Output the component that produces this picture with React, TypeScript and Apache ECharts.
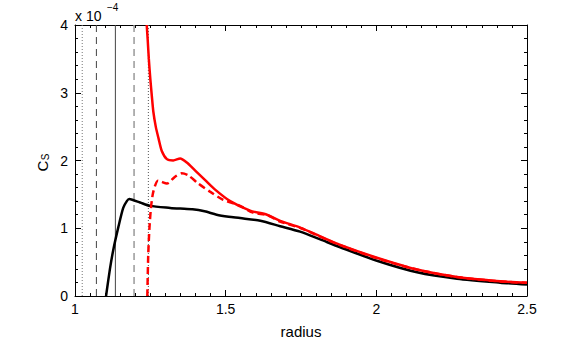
import React, { useEffect, useRef } from "react";
import * as echarts from "echarts";

// Data (C_S in units of 1e-4 vs radius)
const blackX = [1.103, 1.116, 1.127, 1.144, 1.16, 1.172, 1.18, 1.19, 1.216, 1.249, 1.316, 1.349, 1.39, 1.43, 1.47, 1.51, 1.548, 1.615, 1.681, 1.747, 1.814, 1.88, 2.002, 2.135, 2.268, 2.411, 2.5];
const blackY = [0, 0.4, 0.68, 1.02, 1.3, 1.40, 1.43, 1.42, 1.38, 1.33, 1.3, 1.29, 1.28, 1.25, 1.2, 1.17, 1.15, 1.11, 1.03, 0.95, 0.835, 0.72, 0.52, 0.35, 0.255, 0.197, 0.17];

const redX = [1.238, 1.241, 1.245, 1.25, 1.255, 1.26, 1.268, 1.277, 1.288, 1.305, 1.326, 1.349, 1.371, 1.399, 1.432, 1.465, 1.515, 1.581, 1.637, 1.681, 1.747, 1.814, 1.88, 2.002, 2.135, 2.268, 2.411, 2.5];
const redY = [4.0, 3.8, 3.5, 3.2, 2.95, 2.72, 2.5, 2.33, 2.14, 2.02, 2.0, 2.03, 1.97, 1.85, 1.71, 1.57, 1.4, 1.26, 1.2, 1.11, 1.01, 0.88, 0.755, 0.565, 0.39, 0.28, 0.217, 0.197];

const redDashX = [1.24, 1.243, 1.247, 1.252, 1.258, 1.265, 1.275, 1.285, 1.305, 1.332, 1.354, 1.376, 1.409, 1.448, 1.492, 1.548, 1.591, 1.64, 1.68, 1.75, 1.814, 1.88, 2.0, 2.135, 2.268, 2.411, 2.5];
const redDashY = [0, 0.6, 1.0, 1.3, 1.5, 1.62, 1.7, 1.69, 1.66, 1.76, 1.81, 1.78, 1.66, 1.54, 1.42, 1.33, 1.23, 1.19, 1.1, 1.0, 0.875, 0.75, 0.56, 0.39, 0.28, 0.215, 0.195];

// Vertical reference lines
const refLineX = [1.024, 1.071, 1.134, 1.196, 1.2435];
const refLineType = ["dotted", "dashed", "solid", "dashed", "dotted"];
const refLineColor = ["#777777", "#444444", "#444444", "#999999", "#555555"];
const refLineWidth = [1, 1, 1, 1.5, 1];

const xTicks = [1, 1.5, 2, 2.5];
const yTicks = [0, 1, 2, 3, 4];

const zip = (xs: number[], ys: number[]) => xs.map((x, i) => [x, ys[i]]);

const FONT = "Liberation Sans, Arial, Helvetica, sans-serif";

export default function App() {
  const ref = useRef<HTMLDivElement>(null);
  useEffect(() => {
    if (!ref.current) return;
    const chart = echarts.init(ref.current, null, { renderer: "svg" });
    const axisCommon = {
      type: "value" as const,
      axisLine: { show: true, onZero: false, lineStyle: { color: "#000", width: 1 } },
      axisTick: { show: true, inside: true, length: 6, lineStyle: { color: "#000" } },
      minorTick: { show: true, length: 3, lineStyle: { color: "#000" } },
      splitLine: { show: false },
      minorSplitLine: { show: false },
    };
    const refSeries = refLineX.map((x, i) => ({
      type: "line" as const,
      data: [[x, 0], [x, 4]],
      showSymbol: false,
      symbol: "none",
      lineStyle: {
        color: refLineColor[i],
        width: refLineWidth[i],
        type: refLineType[i] === "dashed" ? [7, 5] : refLineType[i] === "dotted" ? [1, 2] : "solid",
      },
      z: 1,
      silent: true,
    }));
    chart.setOption({
      animation: false,
      backgroundColor: "#fff",
      textStyle: { fontFamily: FONT },
      grid: { left: 75, right: 54, top: 25, bottom: 39.5 },
      xAxis: [
        {
          ...axisCommon,
          position: "bottom",
          min: 1,
          max: 2.5,
          interval: 0.5,
          minorTick: { ...axisCommon.minorTick, splitNumber: 10 },
          axisLabel: {
            show: true,
            color: "#000",
            fontSize: 14,
            fontFamily: FONT,
            margin: 6,
            showMinLabel: true,
            showMaxLabel: true,
            formatter: (v: number) => (xTicks.includes(v) ? String(v) : ""),
          },
          name: "radius",
          nameLocation: "middle",
          nameGap: 28,
          nameTextStyle: { color: "#000", fontSize: 15, fontFamily: FONT },
        },
        {
          ...axisCommon,
          position: "top",
          min: 1,
          max: 2.5,
          interval: 0.5,
          minorTick: { ...axisCommon.minorTick, splitNumber: 10 },
          axisLabel: { show: false },
        },
      ],
      yAxis: [
        {
          ...axisCommon,
          position: "left",
          min: 0,
          max: 4,
          interval: 1,
          minorTick: { ...axisCommon.minorTick, splitNumber: 5 },
          axisLabel: {
            show: true,
            color: "#000",
            fontSize: 14,
            fontFamily: FONT,
            margin: 7,
            showMinLabel: true,
            showMaxLabel: true,
            formatter: (v: number) => (yTicks.includes(v) ? String(v) : ""),
          },
        },
        {
          ...axisCommon,
          position: "right",
          min: 0,
          max: 4,
          interval: 1,
          minorTick: { ...axisCommon.minorTick, splitNumber: 5 },
          axisLabel: { show: false },
        },
      ],
      graphic: [
        {
          type: "text",
          left: 75,
          top: 9,
          style: { text: "x 10", fontSize: 14, fontFamily: FONT, fill: "#000" },
        },
        {
          type: "text",
          left: 107,
          top: 2,
          style: { text: "−4", fontSize: 10, fontFamily: FONT, fill: "#000" },
        },
        {
          type: "group",
          x: 42,
          y: 166,
          rotation: Math.PI / 2,
          children: [
            {
              type: "text",
              x: 0,
              y: 0,
              style: { text: "C", fontSize: 15, fontFamily: FONT, fill: "#000", align: "center", verticalAlign: "middle" },
            },
            {
              type: "text",
              x: 9,
              y: 3,
              style: { text: "S", fontSize: 10, fontFamily: FONT, fill: "#000", align: "center", verticalAlign: "middle" },
            },
          ],
        },
      ],
      series: [
        ...refSeries,
        {
          type: "line",
          data: zip(blackX, blackY),
          showSymbol: false,
          symbol: "none",
          smooth: 0.25,
          lineStyle: { color: "#000", width: 2.5 },
          z: 3,
        },
        {
          type: "line",
          data: zip(redDashX, redDashY),
          showSymbol: false,
          symbol: "none",
          smooth: 0.25,
          lineStyle: { color: "#ff0000", width: 2.5, type: [7, 4] },
          z: 4,
        },
        {
          type: "line",
          data: zip(redX, redY),
          showSymbol: false,
          symbol: "none",
          smooth: 0.25,
          lineStyle: { color: "#ff0000", width: 2.5 },
          z: 5,
        },
      ],
    });
    return () => chart.dispose();
  }, []);
  return <div ref={ref} style={{ width: 581, height: 344, position: "absolute", left: 0, top: 0 }} />;
}
